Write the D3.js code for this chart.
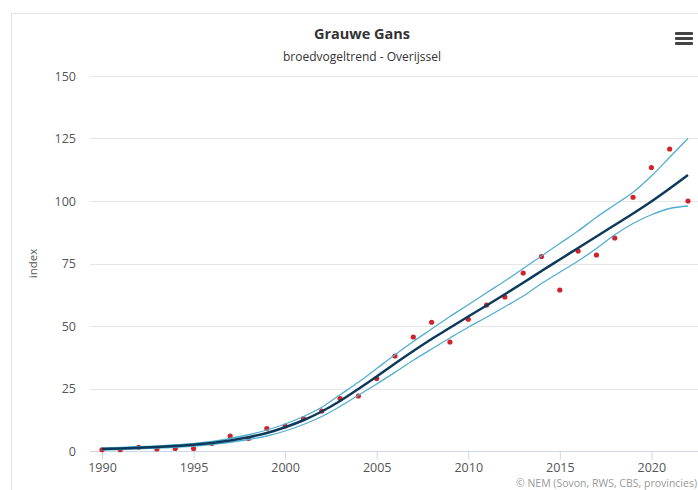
<!DOCTYPE html>
<html>
<head>
<meta charset="utf-8">
<script src="https://cdn.jsdelivr.net/npm/d3@7"></script>
<style>
  body { margin: 0; background: #fff; }
  svg { font-family: "Open Sans", sans-serif; }
</style>
</head>
<body>
<svg width="698" height="490"></svg>
<script>
// years 1990 - 2022
const years = d3.range(1990, 2023);

// yearly index values (red dots)
const observed = [0.5, 0.5, 1.5, 0.8, 1, 1, 3, 6, 5, 9, 10, 13, 16, 21, 22, 29,
  38, 45.6, 51.5, 43.6, 52.7, 58.4, 61.6, 71.2, 77.8, 64.4, 80, 78.4, 85.2,
  101.5, 113.4, 120.8, 100];

// smoothed trend (dark line)
const trend = [0.8, 1.0, 1.3, 1.6, 2.0, 2.5, 3.2, 4.2, 5.5, 7.2, 9.5, 12.3, 15.8,
  20, 24.8, 29.8, 35, 40, 44.8, 49.3, 53.8, 58.2, 62.7, 67.3, 72, 76.6, 81.2,
  85.8, 90.4, 95, 99.8, 105, 110.4];

// confidence band (light lines)
const upper = [1.2, 1.4, 1.7, 2.0, 2.5, 3.0, 3.8, 5.0, 6.5, 8.4, 10.8, 13.8, 17.5,
  22.5, 27.5, 33, 38.5, 43.8, 48.8, 53.8, 58.5, 63.3, 68, 73, 78, 83, 88, 93.5,
  98.5, 103.5, 110, 117.5, 125];
const lower = [0.4, 0.6, 0.9, 1.2, 1.5, 2.0, 2.6, 3.5, 4.6, 6.0, 8.0, 10.6, 13.8,
  17.8, 22.3, 26.8, 31.5, 36.3, 40.8, 45.2, 49.5, 53.5, 57.7, 62, 67, 71.5, 76,
  81, 86.5, 91, 94.5, 97, 98];

const yTicks = [0, 25, 50, 75, 100, 125, 150];
const xTicks = [1990, 1995, 2000, 2005, 2010, 2015, 2020];

const svg = d3.select("svg");

// outer frame of the chart
svg.append("rect")
  .attr("x", 11.5).attr("y", 13.5)
  .attr("width", 720).attr("height", 500)
  .attr("fill", "none")
  .attr("stroke", "#e2e2e2");

const plotLeft = 90, plotRight = 698;

const x = d3.scaleLinear().domain([1990, 2022]).range([102, 688]);
const y = d3.scaleLinear().domain([0, 150]).range([451, 76]);

// Title + subtitle
svg.append("text")
  .attr("x", 362).attr("y", 39)
  .attr("text-anchor", "middle")
  .style("font-size", "14.5px")
  .style("font-weight", "bold")
  .attr("fill", "#333")
  .text("Grauwe Gans");

svg.append("text")
  .attr("x", 362).attr("y", 61)
  .attr("text-anchor", "middle")
  .style("font-size", "12px")
  .attr("fill", "#333")
  .text("broedvogeltrend - Overijssel");

// menu icon
svg.append("g")
  .selectAll("rect")
  .data([0, 1, 2])
  .join("rect")
  .attr("x", 675).attr("y", d => 32 + d * 5)
  .attr("width", 18).attr("height", 3)
  .attr("rx", 1)
  .attr("fill", "#444");

// horizontal grid + y labels
svg.append("g")
  .selectAll("line")
  .data(yTicks.filter(d => d > 0))
  .join("line")
  .attr("x1", plotLeft).attr("x2", plotRight)
  .attr("y1", d => Math.round(y(d)) + 0.5)
  .attr("y2", d => Math.round(y(d)) + 0.5)
  .attr("stroke", "#e6e6e6");

svg.append("g")
  .selectAll("text")
  .data(yTicks)
  .join("text")
  .attr("x", 76)
  .attr("y", d => y(d) + 4.5)
  .attr("text-anchor", "end")
  .style("font-size", "12.5px")
  .attr("fill", "#555")
  .text(d => d);

// y axis title
svg.append("text")
  .attr("transform", `translate(37, ${(y(0) + y(150)) / 2}) rotate(-90)`)
  .attr("text-anchor", "middle")
  .style("font-size", "11.5px")
  .attr("fill", "#555")
  .text("index");

// x axis
const xAxis = svg.append("g")
  .attr("transform", `translate(0, ${Math.round(y(0)) + 0.5})`)
  .call(d3.axisBottom(x).tickValues(xTicks).tickFormat(d3.format("d")).tickSize(8).tickPadding(4));

xAxis.select(".domain").remove();
xAxis.insert("line", ":first-child")
  .attr("x1", plotLeft).attr("x2", plotRight)
  .attr("stroke", "#ccd6eb");
xAxis.selectAll(".tick line").attr("stroke", "#ccd6eb");
xAxis.selectAll(".tick text")
  .style("font-size", "12.5px")
  .style("font-family", "'Open Sans', sans-serif")
  .attr("fill", "#555");

// points
svg.append("g")
  .selectAll("circle")
  .data(years.map((yr, i) => [yr, observed[i]]))
  .join("circle")
  .attr("cx", d => x(d[0]))
  .attr("cy", d => y(d[1]))
  .attr("r", 2.6)
  .attr("fill", "#d1232a");

const line = d3.line()
  .x(d => x(d[0]))
  .y(d => y(d[1]))
  .curve(d3.curveMonotoneX);

[upper, lower].forEach(series => {
  svg.append("path")
    .datum(years.map((yr, i) => [yr, series[i]]))
    .attr("d", line)
    .attr("fill", "none")
    .attr("stroke", "#52aed0")
    .attr("stroke-width", 1.3);
});

svg.append("path")
  .datum(years.map((yr, i) => [yr, trend[i]]))
  .attr("d", line)
  .attr("fill", "none")
  .attr("stroke", "#0c3a5b")
  .attr("stroke-width", 2.5);

// credits
svg.append("text")
  .attr("x", 697).attr("y", 487)
  .attr("text-anchor", "end")
  .style("font-size", "10.5px")
  .attr("fill", "#999")
  .text("© NEM (Sovon, RWS, CBS, provincies)");
</script>
</body>
</html>
